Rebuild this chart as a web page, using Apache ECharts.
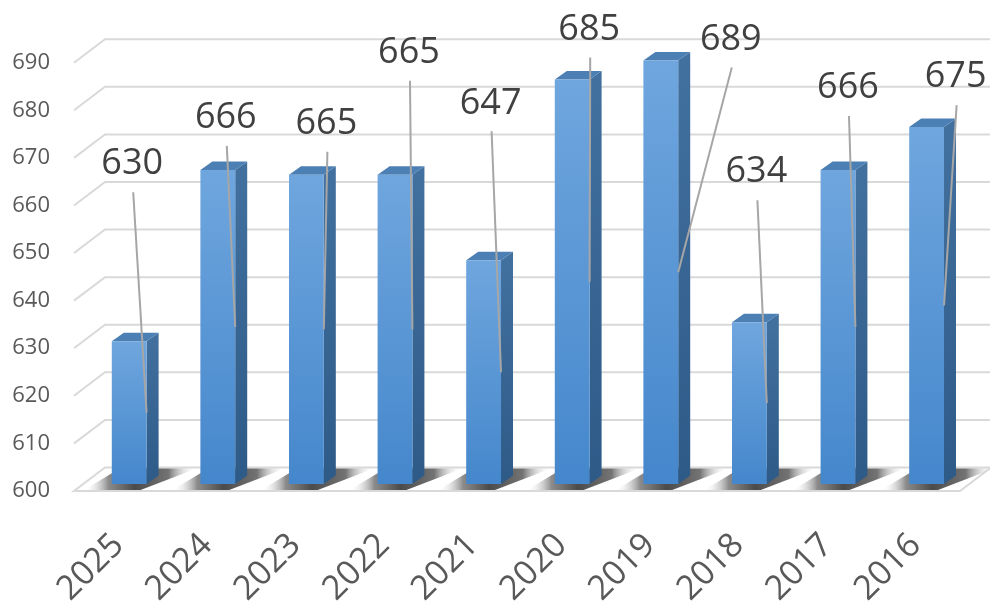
<!DOCTYPE html>
<html><head><meta charset="utf-8">
<script src="https://cdn.jsdelivr.net/npm/echarts@6/dist/echarts.min.js"></script>
<style>html,body{margin:0;padding:0;background:#fff}#c{width:990px;height:604px}</style>
</head><body><div id="c"></div>
<script>
const years = ['2025','2024','2023','2022','2021','2020','2019','2018','2017','2016'];
const values = [630,666,665,665,647,685,689,634,666,675];
const yTicks = [600,610,620,630,640,650,660,670,680,690];

// layout only: label centre offsets (px) from each bar's front-top centre
const labelOffsets = [[3,-177],[8,-52],[20,-51],[14,-122],[7,-157],[17,-50],[70,-21],[7,-150],[10,-82],[29,-50]];

const DEPTH = [31,-23.5];
const BAR_OFF = [10.9,-7];
const SIDE = [12,-8.5];
const FONT = "'Open Sans', 'Liberation Sans', sans-serif";
const GRID_COLOR = '#d9d9d9';

const chart = echarts.init(document.getElementById('c'), null, {renderer:'canvas'});

function renderGrid(params, api){
  const v = api.value(1);
  const cs = params.coordSys;
  const y = api.coord([0, v])[1];
  const x0 = cs.x, x1 = cs.x + cs.width;
  const children = [];
  if (params.dataIndex === 0) {
    children.push({type:'polygon', shape:{points:[[x0,y],[x1,y],[x1+DEPTH[0],y+DEPTH[1]],[x0+DEPTH[0],y+DEPTH[1]]]},
      style:{fill:'#ffffff', stroke:GRID_COLOR, lineWidth:2}});
  } else {
    children.push({type:'polyline', shape:{points:[[x0,y],[x0+DEPTH[0],y+DEPTH[1]],[x1+DEPTH[0],y+DEPTH[1]]]},
      style:{fill:null, stroke:GRID_COLOR, lineWidth:2}});
  }
  return {type:'group', children};
}

function renderShadow(params, api){
  const i = api.value(0);
  const base = api.coord([i, yTicks[0]]);
  const bw = api.size([1,0])[0]*0.393;
  const cx = base[0] + BAR_OFF[0];
  const xL = cx - bw/2, xR = cx + bw/2;
  const yF = base[1] - 1, yBk = base[1] + DEPTH[1] + 1;
  return {type:'polygon', shape:{points:[[xL-28,yF],[xR-6,yF],[xR+SIDE[0]+38,yBk],[xL+8,yBk]]},
    style:{fill:new echarts.graphic.LinearGradient(0,0,1,0,[
      {offset:0,color:'rgba(255,255,255,0)'},
      {offset:0.22,color:'rgba(100,100,100,0.75)'},
      {offset:0.45,color:'rgba(55,55,55,0.9)'},
      {offset:0.75,color:'rgba(80,80,80,0.8)'},
      {offset:1,color:'rgba(255,255,255,0)'}])}};
}

function renderBar(params, api){
  const i = api.value(0), v = api.value(1);
  const top = api.coord([i, v]);
  const base = api.coord([i, yTicks[0]]);
  const bw = api.size([1,0])[0]*0.393;
  const cx = top[0] + BAR_OFF[0];
  const yT = top[1] + BAR_OFF[1], yB = base[1] + BAR_OFF[1];
  const xL = cx - bw/2, xR = cx + bw/2;
  const mid = api.coord([i, (v + yTicks[0])/2])[1] + BAR_OFF[1];
  const off = labelOffsets[params.dataIndex];
  const lx = cx + off[0], ly = yT + off[1];
  return {type:'group', children:[
    {type:'polygon', shape:{points:[[xR,yT],[xR+SIDE[0],yT+SIDE[1]],[xR+SIDE[0],yB+SIDE[1]],[xR,yB]]},
      style:{fill:new echarts.graphic.LinearGradient(0,0,0,1,[{offset:0,color:'#43719f'},{offset:1,color:'#2d5a87'}])}},
    {type:'polygon', shape:{points:[[xL,yT],[xL+SIDE[0],yT+SIDE[1]],[xR+SIDE[0],yT+SIDE[1]],[xR,yT]]},
      style:{fill:'#4c7fb3'}},
    {type:'rect', shape:{x:xL, y:yT, width:bw, height:yB-yT},
      style:{fill:new echarts.graphic.LinearGradient(0,0,0,1,[{offset:0,color:'#6fa6de'},{offset:1,color:'#4587cc'}])}},
    {type:'line', shape:{x1:lx+1, y1:ly+28, x2:xR, y2:mid}, style:{stroke:'#a6a6a6', lineWidth:2}},
    {type:'text', x:lx, y:ly, style:{text:String(v), fill:'#404040', font:'36px ' + FONT, align:'center', verticalAlign:'middle'}}
  ]};
}

chart.setOption({
  animation:false,
  backgroundColor:'#ffffff',
  grid:{left:74, right:30, top:62.7, bottom:113, containLabel:false, outerBoundsMode:'none'},
  xAxis:{type:'category', data:years, axisLine:{show:false}, axisTick:{show:false}, splitLine:{show:false},
    axisLabel:{rotate:45, margin:49, fontSize:34, color:'#595959', fontFamily:FONT, interval:0}},
  yAxis:{type:'value', min:600, max:690, interval:10, axisLine:{show:false}, axisTick:{show:false}, splitLine:{show:false},
    axisLabel:{margin:24, fontSize:22, color:'#595959', fontFamily:FONT}},
  series:[
    {type:'custom', name:'grid', renderItem:renderGrid, data:yTicks.map(v=>[0,v]), encode:{x:0,y:1}, z:1, clip:false, silent:true},
    {type:'custom', name:'shadow', renderItem:renderShadow, data:values.map((v,i)=>[i,v]), encode:{x:0,y:1}, z:2, clip:false, silent:true},
    {type:'custom', name:'bars', renderItem:renderBar, data:values.map((v,i)=>[i,v]), encode:{x:0,y:1}, z:3, clip:false}
  ]
});
</script></body></html>
